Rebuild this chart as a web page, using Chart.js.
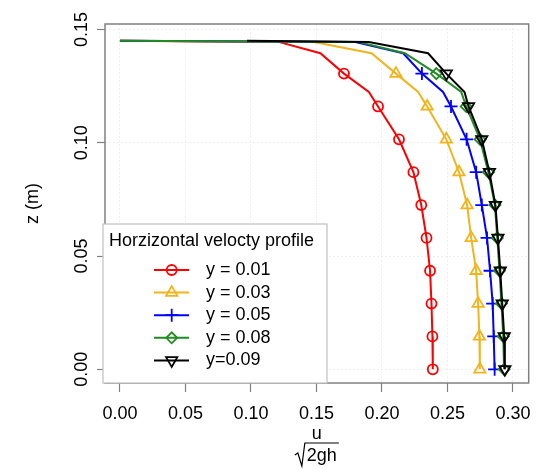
<!DOCTYPE html>
<html>
<head>
<meta charset="utf-8">
<script src="https://cdn.jsdelivr.net/npm/chart.js@4.4.1/dist/chart.umd.min.js"></script>
<style>
	html, body { margin: 0; padding: 0; background: #fff; }
	#wrap { width: 537px; height: 470px; }
</style>
</head>
<body>
<div id="wrap"><canvas id="profileChart" width="537" height="470"></canvas></div>
<script>
/* -------------------------------------------------------------
 * DATA
 * ------------------------------------------------------------- */
// depth of each sample (m), free surface first
const zLevels = [ 0.145, 0.1445, 0.1395, 0.1305, 0.1224, 0.1160, 0.1015, 0.0870, 0.0725, 0.0580, 0.0435, 0.0290, 0.0145, 0.0 ];
// rows that carry a plotting symbol
const markerRows = [ false, false, false, true, false, true, true, true, true, true, true, true, true, true ];

const seriesLabels = [ 'y = 0.01', 'y = 0.03', 'y = 0.05', 'y = 0.08', 'y=0.09' ];

// u / sqrt(2gh) at each depth
const uY001 = [ 0, 0.121, 0.153, 0.171, 0.190, 0.197, 0.213, 0.224, 0.230, 0.234, 0.2367, 0.2378, 0.2385, 0.2388 ];
const uY003 = [ 0, 0.148, 0.192, 0.2107, 0.2276, 0.2345, 0.2491, 0.2588, 0.2650, 0.2681, 0.2719, 0.2734, 0.2744, 0.2747 ];
const uY005 = [ 0, 0.179, 0.2162, 0.2305, 0.2466, 0.2527, 0.2646, 0.2719, 0.2762, 0.2802, 0.2825, 0.2845, 0.2853, 0.2860 ];
const uY008 = [ 0, 0.182, 0.2175, 0.2415, 0.2605, 0.2643, 0.2748, 0.2812, 0.2862, 0.2880, 0.2897, 0.2912, 0.2926, 0.2932 ];
const uY009 = [ 0.097, 0.190, 0.2352, 0.2491, 0.2630, 0.2661, 0.2762, 0.2820, 0.2866, 0.2885, 0.2903, 0.2918, 0.2933, 0.2938 ];

const xTicks = [ 0, 0.05, 0.10, 0.15, 0.20, 0.25, 0.30 ];
const zTicks = [ 0, 0.05, 0.10, 0.15 ];

/* -------------------------------------------------------------
 * STYLE
 * ------------------------------------------------------------- */
const FONT = '"Liberation Sans", Arial, Helvetica, sans-serif';
Chart.defaults.font.family = FONT;
Chart.defaults.font.size = 18;
Chart.defaults.color = '#000';

const seriesStyles = [
	{ color: '#ff0000', style: 'circle', radius: 5, rotation: 0 },
	{ color: '#f2b41c', style: 'triangle', radius: 6.5, rotation: 0 },
	{ color: '#0000ff', style: 'cross', radius: 6.5, rotation: 0 },
	{ color: '#228b22', style: 'rectRot', radius: 5.5, rotation: 0 },
	{ color: '#000000', style: 'triangle', radius: 6.5, rotation: 180 }
];

function makeSet( i, u ) {
	const s = seriesStyles[ i ];
	return {
		label: seriesLabels[ i ],
		data: u.map( ( v, k ) => ( { x: v, y: zLevels[ k ] } ) ),
		borderColor: s.color,
		borderWidth: 2,
		showLine: true,
		tension: 0,
		pointStyle: s.style,
		pointRotation: s.rotation,
		pointRadius: ( ctx ) => ( markerRows[ ctx.dataIndex ] ? s.radius : 0 ),
		pointHoverRadius: 0,
		pointBorderColor: s.color,
		pointBackgroundColor: 'rgba(0,0,0,0)',
		pointBorderWidth: 1.8,
		order: 4 - i // black on top
	};
}

/* -------------------------------------------------------------
 * EXTRA DRAWING: frame, legend, fraction title
 * ------------------------------------------------------------- */
const framePlugin = {
	id: 'frame',
	afterDraw( chart ) {
		const { ctx, chartArea: a } = chart;
		ctx.save();

		// plot box
		ctx.strokeStyle = '#808080';
		ctx.lineWidth = 1.5;
		ctx.strokeRect( a.left, a.top, a.right - a.left, a.bottom - a.top );

		// legend box
		const box = { left: 103, top: 224, right: 327, bottom: 383 };
		ctx.fillStyle = '#fff';
		ctx.fillRect( box.left, box.top, box.right - box.left, box.bottom - box.top );
		ctx.strokeStyle = '#c0c0c0';
		ctx.lineWidth = 1.2;
		ctx.strokeRect( box.left, box.top, box.right - box.left, box.bottom - box.top );

		ctx.font = '18px ' + FONT;
		ctx.fillStyle = '#000';
		ctx.textBaseline = 'middle';
		ctx.textAlign = 'left';
		ctx.fillText( 'Horzizontal velocty profile', 109, 241 );

		seriesStyles.forEach( ( s, i ) => {
			const y = 270 + i * 22.6;
			ctx.strokeStyle = s.color;
			ctx.lineWidth = 2;
			ctx.beginPath();
			ctx.moveTo( 154, y );
			ctx.lineTo( 189, y );
			ctx.stroke();

			ctx.lineWidth = 1.8;
			ctx.fillStyle = 'rgba(0,0,0,0)';
			Chart.helpers.drawPoint( ctx, {
				pointStyle: s.style,
				rotation: s.rotation,
				radius: s.radius,
				borderWidth: 1.8
			}, 171.7, y );

			ctx.fillStyle = '#000';
			ctx.fillText( seriesLabels[ i ], 206, y );
		} );

		// x title: u / sqrt(2gh)
		const cx = ( a.left + a.right ) / 2;
		ctx.textAlign = 'center';
		ctx.fillText( 'u', cx, 434 );
		ctx.strokeStyle = '#000';
		ctx.lineWidth = 1.2;
		ctx.beginPath();
		ctx.moveTo( cx - 22, 455 );
		ctx.lineTo( cx - 19, 453 );
		ctx.lineTo( cx - 15, 466 );
		ctx.lineTo( cx - 12, 443 );
		ctx.lineTo( cx + 22, 443 );
		ctx.stroke();
		ctx.fillText( '2gh', cx + 5, 456 );

		ctx.restore();
	}
};

/* -------------------------------------------------------------
 * CHART
 * ------------------------------------------------------------- */
new Chart( document.getElementById( 'profileChart' ), {
	type: 'scatter',
	data: {
		datasets: [ uY001, uY003, uY005, uY008, uY009 ].map( ( u, i ) => makeSet( i, u ) )
	},
	options: {
		responsive: false,
		animation: false,
		devicePixelRatio: 1,
		layout: { padding: { top: 24, right: 6, left: 0, bottom: 0 } },
		plugins: {
			legend: { display: false },
			tooltip: { enabled: false }
		},
		scales: {
			x: {
				type: 'linear',
				min: -0.0114,
				max: 0.312,
				afterBuildTicks: ( s ) => {
					s.ticks = xTicks.map( ( v ) => ( { value: v } ) );
				},
				afterFit: ( s ) => {
					s.height = 87;
					s.paddingLeft = 0;
					s.paddingRight = 0;
				},
				ticks: {
					callback: ( v ) => v.toFixed( 2 ),
					padding: 11,
					maxRotation: 0
				},
				grid: {
					color: '#efefef',
					tickColor: '#808080',
					tickLength: 9,
					tickWidth: 1.2
				},
				border: { display: false, dash: [ 2, 2 ] }
			},
			y: {
				type: 'linear',
				min: -0.00605,
				max: 0.1524,
				afterBuildTicks: ( s ) => {
					s.ticks = zTicks.map( ( v ) => ( { value: v } ) );
				},
				afterFit: ( s ) => {
					s.width = 105;
					s.paddingTop = 0;
					s.paddingBottom = 0;
				},
				ticks: {
					callback: ( v ) => v.toFixed( 2 ),
					minRotation: 90,
					maxRotation: 90,
					crossAlign: 'center',
					padding: -3
				},
				grid: {
					color: '#efefef',
					tickColor: '#808080',
					tickLength: 8,
					tickWidth: 1.2
				},
				border: { display: false, dash: [ 2, 2 ] },
				title: {
					display: true,
					text: 'z (m)',
					font: { size: 18 },
					padding: { top: 22 }
				}
			}
		}
	},
	plugins: [ framePlugin ]
} );
</script>
</body>
</html>
